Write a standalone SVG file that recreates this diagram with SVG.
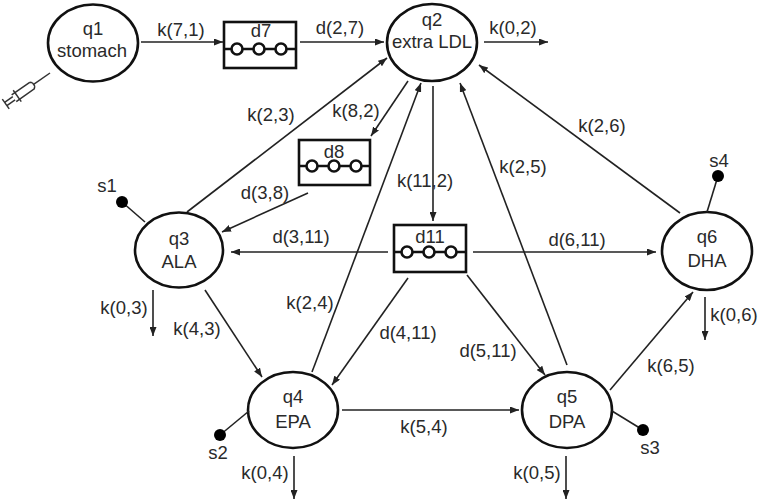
<svg xmlns="http://www.w3.org/2000/svg" width="760" height="500" viewBox="0 0 760 500">
<defs>
<marker id="ah" markerUnits="userSpaceOnUse" markerWidth="9" markerHeight="7" refX="9" refY="3.5" orient="auto">
<path d="M0,0 L9,3.5 L0,7 z" fill="#222"/>
</marker>
<g id="chain">
<line x1="0" y1="27" x2="72" y2="27"/>
<circle cx="13" cy="27" r="5.5"/>
<circle cx="35" cy="27" r="5.5"/>
<circle cx="57" cy="27" r="5.5"/>
</g>
</defs>
<style>
text{font-family:"Liberation Sans",Arial,sans-serif;font-size:18.5px;fill:#2a2a2a;text-anchor:middle}
.node ellipse{fill:#fff;stroke:#111;stroke-width:2.6}
.delay rect{fill:#fff;stroke:#111;stroke-width:2.6}
.delay use{stroke:#111;stroke-width:2.6;fill:#fff}
.conn line{stroke:#222;stroke-width:1.6;fill:none}
.arr{marker-end:url(#ah)}
.src line{stroke:#222;stroke-width:1.6}
.src circle{fill:#000}
.syr{stroke:#333;stroke-width:1.5;fill:none}
</style>
<rect width="760" height="500" fill="#fff"/>

<g id="connectors" class="conn">
<line class="arr" x1="141" y1="42" x2="223" y2="42"/>
<line class="arr" x1="300" y1="42" x2="384" y2="42"/>
<line class="arr" x1="484" y1="42" x2="548" y2="42"/>
<line class="arr" x1="187" y1="212" x2="387" y2="58"/>
<line class="arr" x1="408" y1="81" x2="371" y2="136"/>
<line class="arr" x1="308" y1="193" x2="222" y2="232"/>
<line class="arr" x1="433" y1="86" x2="433" y2="221"/>
<line class="arr" x1="388" y1="252" x2="231" y2="252"/>
<line class="arr" x1="473" y1="252" x2="656" y2="252"/>
<line class="arr" x1="680" y1="213" x2="479" y2="65"/>
<line class="arr" x1="567" y1="365" x2="460" y2="83"/>
<line class="arr" x1="312" y1="372" x2="421" y2="83"/>
<line class="arr" x1="153" y1="290" x2="153" y2="336"/>
<line class="arr" x1="205" y1="290" x2="262" y2="377"/>
<line class="arr" x1="408" y1="278" x2="332" y2="385"/>
<line class="arr" x1="467" y1="275" x2="545" y2="375"/>
<line class="arr" x1="342" y1="410" x2="519" y2="410"/>
<line class="arr" x1="294" y1="456" x2="294" y2="499"/>
<line class="arr" x1="566" y1="456" x2="566" y2="499"/>
<line class="arr" x1="610" y1="390" x2="693" y2="292"/>
<line class="arr" x1="705" y1="297" x2="705" y2="340"/>
</g>

<g id="q1" class="node">
<ellipse cx="93" cy="43" rx="45" ry="38.5"/>
<text x="93" y="35">q1</text>
<text x="92" y="57">stomach</text>
</g>
<g id="syringe" class="syr" transform="translate(50,73) rotate(145)">
<line x1="0" y1="0" x2="20" y2="0"/>
<path d="M20,-2 L22,-4 L44,-4 M22,4 L44,4 M20,2 L22,4 M20,-2 L20,2"/>
<line x1="40" y1="-7" x2="40" y2="7"/>
<line x1="44" y1="-2" x2="54" y2="-2"/>
<line x1="44" y1="2" x2="54" y2="2"/>
<line x1="54" y1="-6" x2="54" y2="6"/>
</g>
<g id="q2" class="node">
<ellipse cx="432" cy="42.5" rx="45" ry="38.5"/>
<text x="432" y="26">q2</text>
<text x="432" y="48">extra LDL</text>
</g>
<g id="q3" class="node">
<ellipse cx="179" cy="250" rx="44" ry="37.5"/>
<text x="179" y="245">q3</text>
<text x="179" y="268">ALA</text>
</g>
<g id="q4" class="node">
<ellipse cx="293" cy="410" rx="45" ry="38"/>
<text x="293" y="403">q4</text>
<text x="293" y="428">EPA</text>
</g>
<g id="q5" class="node">
<ellipse cx="567" cy="410" rx="45" ry="38"/>
<text x="567" y="403">q5</text>
<text x="567" y="428">DPA</text>
</g>
<g id="q6" class="node">
<ellipse cx="707" cy="251" rx="45" ry="39"/>
<text x="707" y="243">q6</text>
<text x="707" y="267">DHA</text>
</g>

<g id="d7" class="delay">
<rect x="224" y="22" width="72" height="46"/>
<text x="261" y="37">d7</text>
<use href="#chain" x="224" y="22"/>
</g>
<g id="d8" class="delay">
<rect x="299" y="140" width="71" height="45"/>
<text x="334" y="158">d8</text>
<use href="#chain" x="299" y="139"/>
</g>
<g id="d11" class="delay">
<rect x="394" y="225" width="72" height="47"/>
<text x="430" y="243">d11</text>
<use href="#chain" x="394" y="225"/>
</g>

<g id="s1" class="src">
<line x1="122" y1="202" x2="145" y2="222"/>
<circle cx="122" cy="202" r="6"/>
<text x="107" y="192">s1</text>
</g>
<g id="s2" class="src">
<line x1="220" y1="435" x2="249" y2="411"/>
<circle cx="220" cy="435" r="6"/>
<text x="218" y="459">s2</text>
</g>
<g id="s3" class="src">
<line x1="643" y1="430" x2="612" y2="411"/>
<circle cx="643" cy="430" r="6"/>
<text x="650" y="454">s3</text>
</g>
<g id="s4" class="src">
<line x1="718" y1="176" x2="707" y2="212"/>
<circle cx="718" cy="176" r="6"/>
<text x="719" y="167">s4</text>
</g>

<g id="labels">
<text x="181" y="36">k(7,1)</text>
<text x="340" y="34">d(2,7)</text>
<text x="513" y="34">k(0,2)</text>
<text x="271" y="121">k(2,3)</text>
<text x="356" y="117">k(8,2)</text>
<text x="425" y="187">k(11,2)</text>
<text x="265" y="199">d(3,8)</text>
<text x="602" y="132">k(2,6)</text>
<text x="523" y="173">k(2,5)</text>
<text x="301" y="243">d(3,11)</text>
<text x="577" y="246">d(6,11)</text>
<text x="310" y="309">k(2,4)</text>
<text x="124" y="314">k(0,3)</text>
<text x="734" y="321">k(0,6)</text>
<text x="197" y="335">k(4,3)</text>
<text x="408" y="339">d(4,11)</text>
<text x="488" y="357">d(5,11)</text>
<text x="671" y="372">k(6,5)</text>
<text x="424" y="433">k(5,4)</text>
<text x="265" y="479">k(0,4)</text>
<text x="537" y="479">k(0,5)</text>
</g>
</svg>
